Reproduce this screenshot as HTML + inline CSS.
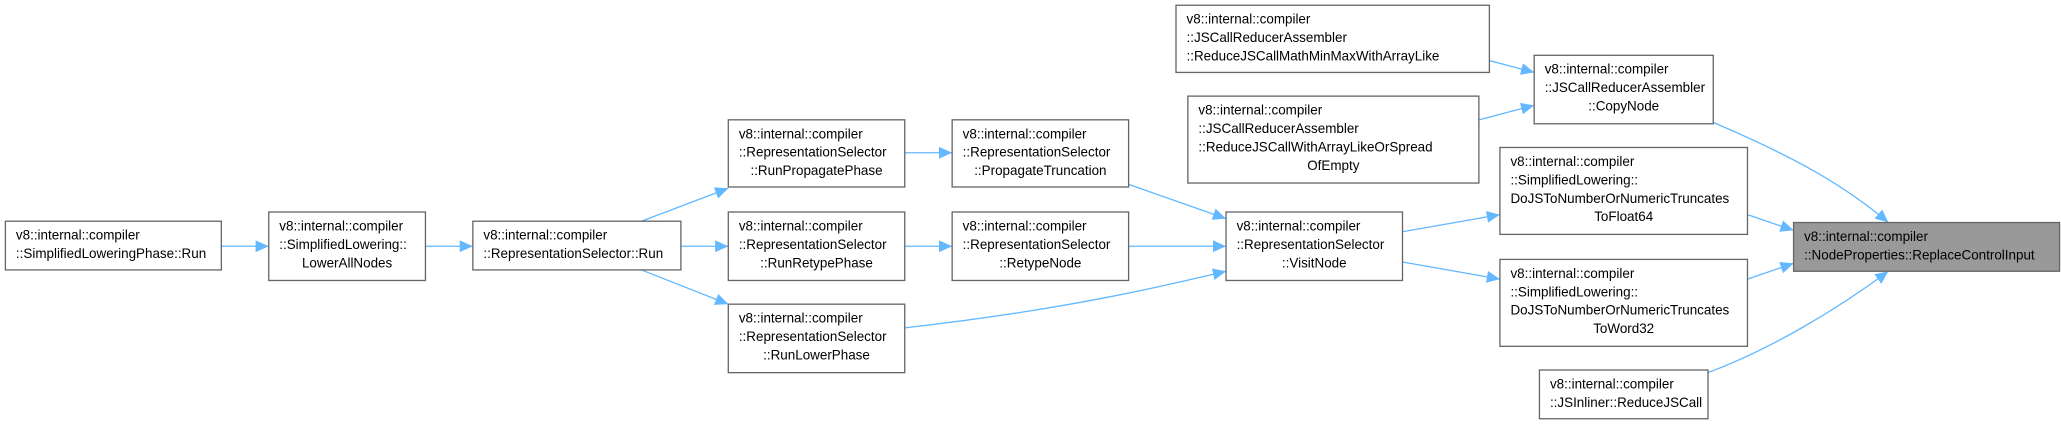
<!DOCTYPE html>
<html><head><meta charset="utf-8"><style>
html,body{margin:0;padding:0;background:#fff;}
svg{display:block;}
text{font-family:"Liberation Sans",sans-serif;font-size:10.2px;fill:#000;}
.b{fill:#fff;stroke:#666;stroke-width:1;}
.e{fill:none;stroke:#63b8ff;stroke-width:1;}
</style></head><body>
<svg width="2061" height="424" viewBox="0 0 1565 322" xmlns="http://www.w3.org/2000/svg">
<defs>
<marker id="a" markerUnits="userSpaceOnUse" markerWidth="11" markerHeight="9" refX="10" refY="4.5" orient="auto">
<path d="M0,0 L10,4.5 L0,9 Z" fill="#63b8ff"/>
</marker>
</defs>
<g class="edges">
<path class="e" d="M168,187 L204,187" marker-end="url(#a)"/>
<path class="e" d="M323,187 L359,187" marker-end="url(#a)"/>
<path class="e" d="M487,168 L553,143" marker-end="url(#a)"/>
<path class="e" d="M517,187 L553,187" marker-end="url(#a)"/>
<path class="e" d="M487,205 L553,231" marker-end="url(#a)"/>
<path class="e" d="M687,116 L723,116" marker-end="url(#a)"/>
<path class="e" d="M687,187 L723,187" marker-end="url(#a)"/>
<path class="e" d="M857,140 L931,166" marker-end="url(#a)"/>
<path class="e" d="M857,187 L931,187" marker-end="url(#a)"/>
<path class="e" d="M687,249 C740,243 800,234 850,224 C880,218 905,212 931,206" marker-end="url(#a)"/>
<path class="e" d="M1065,176 L1139,163" marker-end="url(#a)"/>
<path class="e" d="M1065,199 L1139,212" marker-end="url(#a)"/>
<path class="e" d="M1131,46 L1165,55" marker-end="url(#a)"/>
<path class="e" d="M1123,91 L1165,80" marker-end="url(#a)"/>
<path class="e" d="M1301,93 C1360,118 1400,140 1434,169" marker-end="url(#a)"/>
<path class="e" d="M1327,163 L1362,175" marker-end="url(#a)"/>
<path class="e" d="M1327,212 L1362,200" marker-end="url(#a)"/>
<path class="e" d="M1297,283 C1345,265 1395,235 1434,206" marker-end="url(#a)"/>
</g>
<g>
<rect class="b" x="4" y="168" width="164" height="37"/>
<text x="12" y="182">v8::internal::compiler</text><text x="12" y="196">::SimplifiedLoweringPhase::Run</text>

<rect class="b" x="204" y="161" width="119" height="52"/>
<text x="212" y="175">v8::internal::compiler</text><text x="212" y="189">::SimplifiedLowering::</text><text x="263.5" y="203" text-anchor="middle">LowerAllNodes</text>

<rect class="b" x="359" y="168" width="158" height="37"/>
<text x="367" y="182">v8::internal::compiler</text><text x="367" y="196">::RepresentationSelector::Run</text>

<rect class="b" x="553" y="91" width="134" height="51"/>
<text x="561" y="105">v8::internal::compiler</text><text x="561" y="119">::RepresentationSelector</text><text x="620" y="133" text-anchor="middle">::RunPropagatePhase</text>

<rect class="b" x="553" y="161" width="134" height="52"/>
<text x="561" y="175">v8::internal::compiler</text><text x="561" y="189">::RepresentationSelector</text><text x="620" y="203" text-anchor="middle">::RunRetypePhase</text>

<rect class="b" x="553" y="231" width="134" height="52"/>
<text x="561" y="245">v8::internal::compiler</text><text x="561" y="259">::RepresentationSelector</text><text x="620" y="273" text-anchor="middle">::RunLowerPhase</text>

<rect class="b" x="723" y="91" width="134" height="51"/>
<text x="731" y="105">v8::internal::compiler</text><text x="731" y="119">::RepresentationSelector</text><text x="790" y="133" text-anchor="middle">::PropagateTruncation</text>

<rect class="b" x="723" y="161" width="134" height="52"/>
<text x="731" y="175">v8::internal::compiler</text><text x="731" y="189">::RepresentationSelector</text><text x="790" y="203" text-anchor="middle">::RetypeNode</text>

<rect class="b" x="931" y="161" width="134" height="52"/>
<text x="939" y="175">v8::internal::compiler</text><text x="939" y="189">::RepresentationSelector</text><text x="998" y="203" text-anchor="middle">::VisitNode</text>

<rect class="b" x="893" y="4" width="238" height="51"/>
<text x="901" y="18">v8::internal::compiler</text><text x="901" y="32">::JSCallReducerAssembler</text><text x="901" y="46">::ReduceJSCallMathMinMaxWithArrayLike</text>

<rect class="b" x="902" y="73" width="221" height="66"/>
<text x="910" y="87">v8::internal::compiler</text><text x="910" y="101">::JSCallReducerAssembler</text><text x="910" y="115">::ReduceJSCallWithArrayLikeOrSpread</text><text x="1012.5" y="129" text-anchor="middle">OfEmpty</text>

<rect class="b" x="1165" y="42" width="136" height="52"/>
<text x="1173" y="56">v8::internal::compiler</text><text x="1173" y="70">::JSCallReducerAssembler</text><text x="1233" y="84" text-anchor="middle">::CopyNode</text>

<rect class="b" x="1139" y="112" width="188" height="66"/>
<text x="1147" y="126">v8::internal::compiler</text><text x="1147" y="140">::SimplifiedLowering::</text><text x="1147" y="154">DoJSToNumberOrNumericTruncates</text><text x="1233" y="168" text-anchor="middle">ToFloat64</text>

<rect class="b" x="1139" y="197" width="188" height="66"/>
<text x="1147" y="211">v8::internal::compiler</text><text x="1147" y="225">::SimplifiedLowering::</text><text x="1147" y="239">DoJSToNumberOrNumericTruncates</text><text x="1233" y="253" text-anchor="middle">ToWord32</text>

<rect class="b" x="1169" y="281" width="128" height="37"/>
<text x="1177" y="295">v8::internal::compiler</text><text x="1177" y="309">::JSInliner::ReduceJSCall</text>

<rect x="1362" y="169" width="202" height="37" fill="#999" stroke="#666" stroke-width="1"/>
<text x="1370" y="183">v8::internal::compiler</text><text x="1370" y="197">::NodeProperties::ReplaceControlInput</text>
</g>
</svg>
</body></html>
